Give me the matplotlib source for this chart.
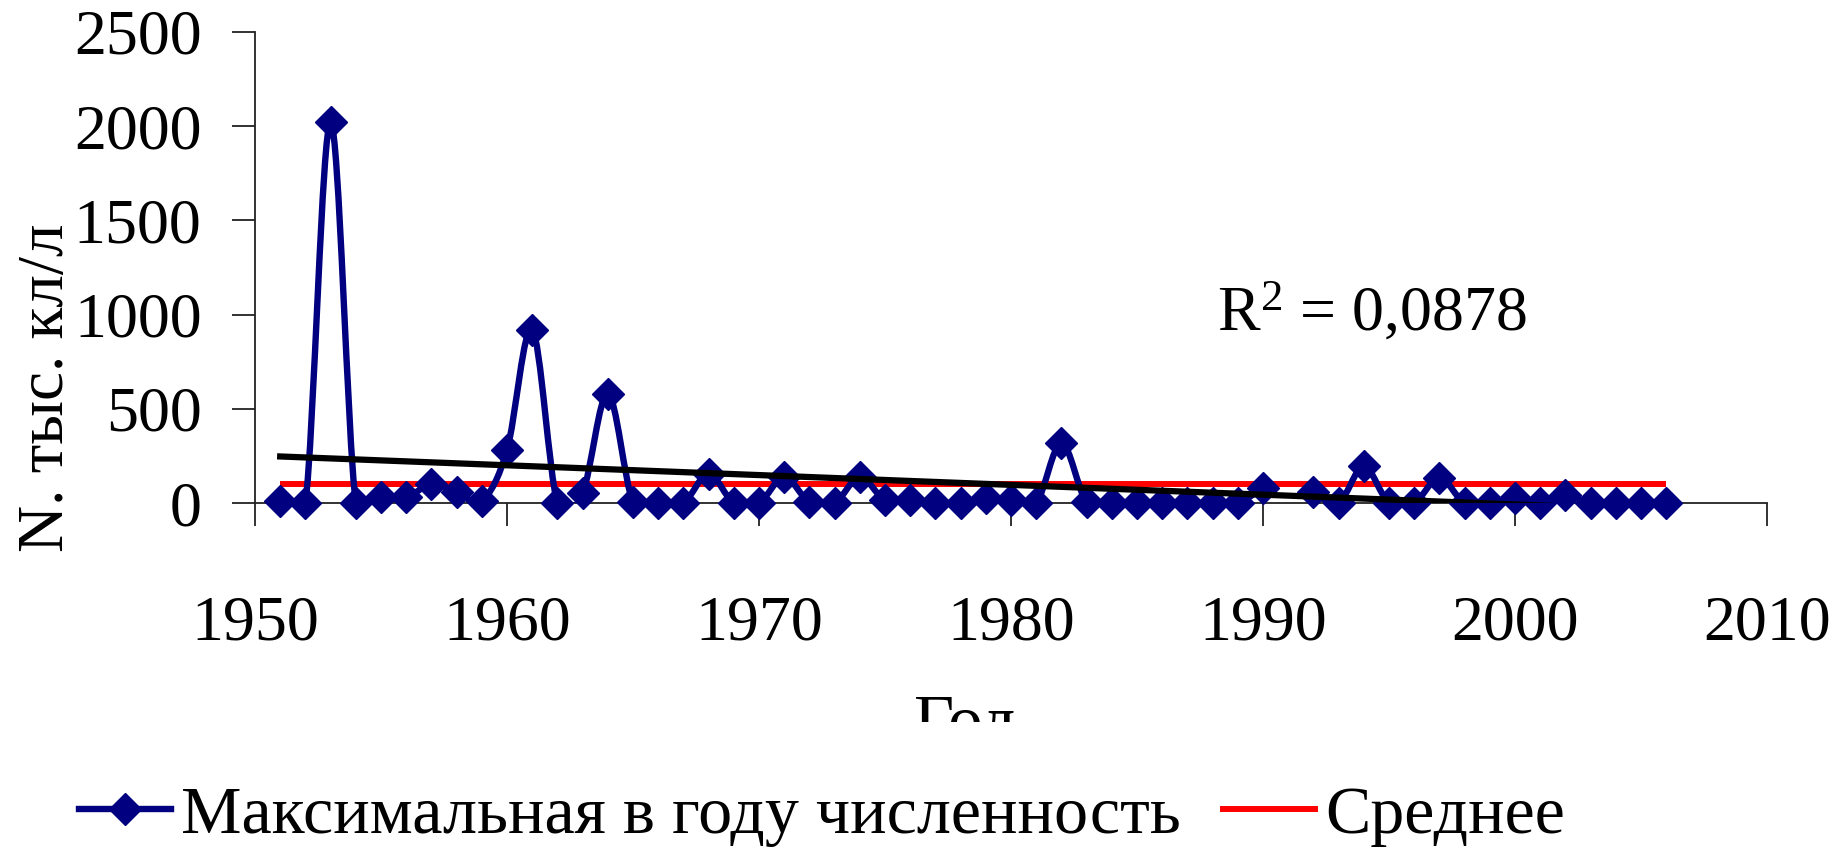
import numpy as np
import matplotlib
matplotlib.use("Agg")
import matplotlib.pyplot as plt
from matplotlib.path import Path
from matplotlib.patches import PathPatch, Rectangle
from matplotlib.lines import Line2D

# --- data -------------------------------------------------------------------
years = list(range(1951, 2007))
max_counts = [
    10, 0, 2020, 0, 30, 30, 100, 60, 10, 280,          # 1951-1960
    920, 0, 55, 580, 5, 0, 0, 155, 0, 0,               # 1961-1970
    138, 5, 0, 138, 15, 15, 0, 0, 25, 18,              # 1971-1980
    0, 318, 5, 0, 0, 0, 0, 0, 0, 81,                   # 1981-1990
    np.nan, 58, 0, 194, 0, 0, 134, 0, 0, 28,           # 1991-2000
    0, 40, 0, 0, 0, 0,                                 # 2001-2006
]
mean_value = 100
trend_years = [1951, 2006]
trend_values = [247, -39]
r2_text = "R$^{\\mathrm{2}}$ = 0,0878"

x_ticks = [1950, 1960, 1970, 1980, 1990, 2000, 2010]
y_ticks = [0, 500, 1000, 1500, 2000, 2500]

series_label = "Максимальная в году численность"
mean_label = "Среднее"
x_title = "Год"
y_title = "N. тыс. кл/л"

# --- style ------------------------------------------------------------------
plt.rcParams["font.family"] = ["Liberation Serif", "DejaVu Serif"]
plt.rcParams["mathtext.fontset"] = "custom"
plt.rcParams["mathtext.rm"] = "Liberation Serif"
plt.rcParams["mathtext.it"] = "Liberation Serif:italic"

NAVY = "#000080"
RED = "#ff0000"

W, H = 1841, 847
fig = plt.figure(figsize=(W / 100, H / 100), dpi=100)
fig.patch.set_facecolor("white")

ax_left, ax_right, ax_top, ax_bottom = 255, 1767, 32, 503
ax = fig.add_axes([ax_left / W, 1 - ax_bottom / H,
                   (ax_right - ax_left) / W, (ax_bottom - ax_top) / H])


def smooth_path(xs, ys):
    """Cubic Bezier curve through the points (Excel-style smoothing)."""
    pts = np.column_stack([np.asarray(xs, float), np.asarray(ys, float)])
    n = len(pts)
    verts = [pts[0]]
    codes = [Path.MOVETO]
    for i in range(n - 1):
        p0 = pts[i - 1] if i > 0 else pts[i]
        p1 = pts[i]
        p2 = pts[i + 1]
        p3 = pts[i + 2] if i + 2 < n else p2
        verts += [p1 + (p2 - p0) / 6.0, p2 - (p3 - p1) / 6.0, p2]
        codes += [Path.CURVE4] * 3
    return Path(verts, codes)


# mean line
ax.plot([years[0], years[-1]], [mean_value, mean_value], color=RED,
        lw=4.3, solid_capstyle="butt", zorder=2)

# smoothed series, split where a year is missing
yrs = np.array(years, float)
vals = np.array(max_counts, float)
ok = ~np.isnan(vals)
runs = []
start = None
for i, good in enumerate(ok):
    if good and start is None:
        start = i
    if (not good or i == len(ok) - 1) and start is not None:
        runs.append((start, i + 1 if good else i))
        start = None
for s, e in runs:
    if e - s >= 2:
        ax.add_patch(PathPatch(smooth_path(yrs[s:e], vals[s:e]),
                               facecolor="none", edgecolor=NAVY, lw=4.6,
                               zorder=3, capstyle="round", joinstyle="round"))
ax.plot(years, max_counts, linestyle="none", marker="D", ms=16.5,
        color=NAVY, mec=NAVY, mew=1, clip_on=False, zorder=4)

# linear trend
ax.plot(trend_years, trend_values, color="black", lw=4.5, zorder=5)

# axes
ax.set_xlim(1950, 2010)
ax.set_ylim(0, 2500)
ax.set_xticks(x_ticks)
ax.set_yticks(y_ticks)
for side in ("top", "right"):
    ax.spines[side].set_visible(False)
for side in ("left", "bottom"):
    ax.spines[side].set_linewidth(1.3)
    ax.spines[side].set_color("#222222")
ax.tick_params(axis="both", direction="out", length=16.5, width=1.3,
               color="#222222", labelsize=46)
ax.tick_params(axis="x", pad=50)
ax.tick_params(axis="y", pad=22)

# axis titles
fig.text(47 / W, 1 - 388 / H, y_title, rotation=90, ha="center",
         va="center", fontsize=47)
fig.text(965 / W, 1 - 743 / H, x_title, ha="center", va="baseline",
         fontsize=50, zorder=0.5)
fig.add_artist(Rectangle((0, 0), 1, (H - 722) / H, transform=fig.transFigure,
                         facecolor="white", edgecolor="none", zorder=1))

# R^2 annotation
fig.text(1217 / W, 1 - 331 / H, r2_text, ha="left", va="baseline",
         fontsize=46)

# legend
handles = [
    Line2D([], [], color=NAVY, lw=4.6, marker="D", ms=16.5, mec=NAVY),
    Line2D([], [], color=RED, lw=4.3),
]
leg = fig.legend(handles, [series_label, mean_label], ncol=2,
                 loc="center", bbox_to_anchor=(822 / W, 1 - 816 / H),
                 frameon=False, fontsize=49, handlelength=1.35,
                 handletextpad=0.15, columnspacing=0.62, borderpad=0,
                 borderaxespad=0)
leg.set_zorder(5)

fig.savefig("out.png", dpi=100, facecolor="white")
